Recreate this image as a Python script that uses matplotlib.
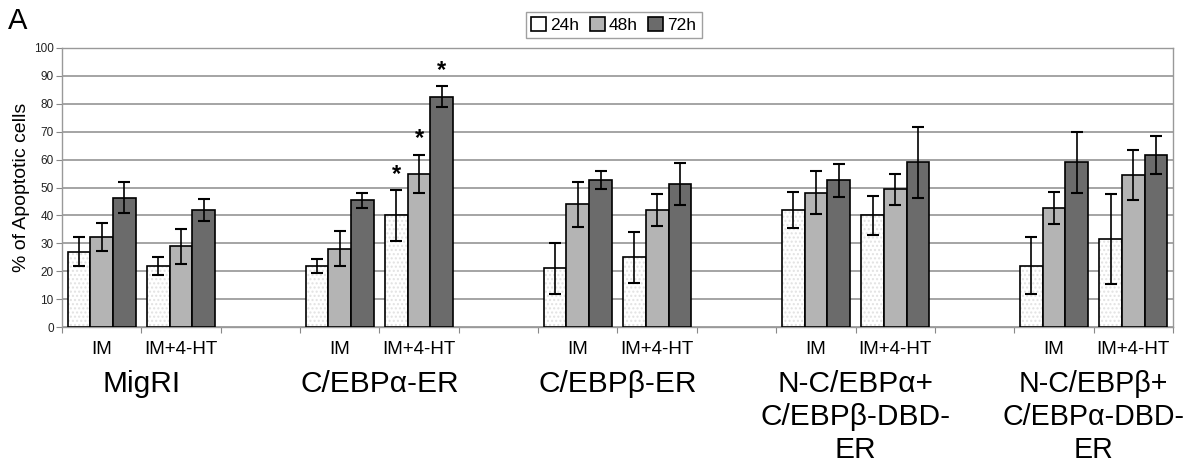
import numpy as np
import matplotlib
matplotlib.use("Agg")
import matplotlib.pyplot as plt

plt.rcParams['font.family'] = ['Liberation Sans', 'DejaVu Sans']

groups = ["MigRI", "C/EBPα-ER", "C/EBPβ-ER",
          "N-C/EBPα+\nC/EBPβ-DBD-\nER", "N-C/EBPβ+\nC/EBPα-DBD-\nER"]
treatments = ["IM", "IM+4-HT"]
series = ["24h", "48h", "72h"]

v24 = [27, 22, 22, 40, 21, 25, 42, 40, 22, 31.5]
e24 = [5.3, 3.2, 2.5, 9.2, 9.1, 9.1, 6.4, 7.0, 10.3, 16]
v48 = [32.3, 29, 28, 55, 44, 41.8, 48.2, 49.4, 42.7, 54.4]
e48 = [5, 6.3, 6.3, 6.8, 8, 5.7, 7.7, 5.6, 5.8, 8.9]
v72 = [46.3, 42, 45.4, 82.5, 52.6, 51.4, 52.6, 59, 59, 61.7]
e72 = [5.5, 4, 2.6, 3.8, 3.2, 7.5, 6, 12.6, 11, 6.9]
sig = [False, False, False, True, False, False, False, False, False, False]

yticks = list(range(0, 101, 10))

colors = ["white", "#b4b4b4", "#6b6b6b"]

fig = plt.figure(figsize=(11.86, 4.66), dpi=100)
ax = fig.add_axes([62/1186, 1-327/466, (1173-62)/1186, (327-48)/466])

ngroups = len(groups)
ncat = 3 * ngroups - 1
positions = []
for g in range(ngroups):
    for t in range(len(treatments)):
        positions.append(3 * g + t + 0.5)
positions = np.array(positions)

w = 0.286
vals = [v24, v48, v72]
errs = [e24, e48, e72]
for i, (v, e) in enumerate(zip(vals, errs)):
    x = positions + (i - 1) * w
    if i == 0:
        ax.bar(x, v, w, color="white", edgecolor="#e2e2e2", hatch="....",
               linewidth=0, zorder=2)
        ax.bar(x, v, w, color="none", edgecolor="black", linewidth=1.2,
               zorder=3, label=series[i])
    else:
        ax.bar(x, v, w, color=colors[i], edgecolor="black", linewidth=1.2,
               zorder=3, label=series[i])
    ax.errorbar(x, v, yerr=e, fmt="none", ecolor="black", elinewidth=1.2,
                capsize=4, capthick=1.5, zorder=4)
    for xi, vi, ei, s in zip(x, v, e, sig):
        if s:
            ax.text(xi, vi + ei + 1.5, "*", ha="center", va="bottom",
                    fontsize=17, fontweight="bold", zorder=5)

ax.set_xlim(0, ncat)
ax.set_ylim(0, 100)
ax.set_yticks(yticks)
ax.set_yticklabels([str(t) for t in yticks], fontsize=8.5, color="#222222")
ax.set_xticks(range(0, ncat + 1))
ax.set_xticklabels([])
ax.tick_params(axis="x", direction="out", length=4, color="#888888")
ax.tick_params(axis="y", direction="out", length=4, color="#888888", pad=2)
ax.grid(axis="y", color="#8c8c8c", linewidth=1.1, zorder=0)
ax.set_axisbelow(True)
for sp in ax.spines.values():
    sp.set_color("#999999")
    sp.set_linewidth(1.0)

ax.set_ylabel("% of Apoptotic cells", fontsize=14, labelpad=3)

for p, lab in zip(positions, treatments * ngroups):
    ax.annotate(lab, xy=(p, 0), xycoords=("data", "axes fraction"),
                xytext=(0, -16), textcoords="offset points",
                ha="center", va="center", fontsize=13.5)

for g, lab in enumerate(groups):
    fs = 21.5 if g < ngroups - 1 else 20.6
    ax.annotate(lab, xy=(3 * g + 1, 0), xycoords=("data", "axes fraction"),
                xytext=(0, -31), textcoords="offset points",
                ha="center", va="top", fontsize=fs, linespacing=1.22)

fig.text(0.007, 0.955, "A", fontsize=21, ha="left", va="center")

leg = fig.legend(loc="center", bbox_to_anchor=(614/1186, 1-25/466), ncol=3,
                 fontsize=12.5, handlelength=0.85, handleheight=0.85,
                 handletextpad=0.25, columnspacing=0.6, borderpad=0.3,
                 frameon=True, fancybox=False)
leg.get_frame().set_edgecolor("#888888")
leg.get_frame().set_linewidth(1.0)

fig.savefig("out.png", dpi=100)
